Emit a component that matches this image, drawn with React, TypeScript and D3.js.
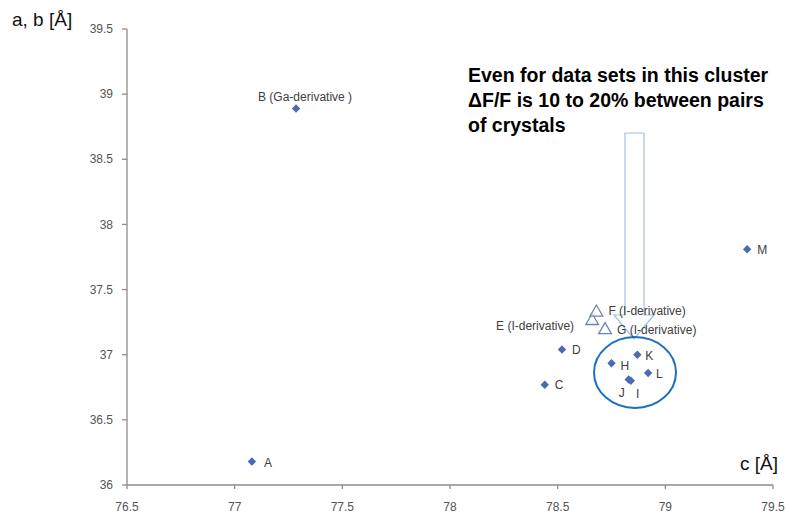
import React from "react";
import * as d3 from "d3";

// crystal data sets: c axis vs a,b axis (Å)
const names = ["A", "B", "C", "D", "E", "F", "G", "H", "J", "I", "K", "L", "M"];
const cValues = [77.08, 77.285, 78.44, 78.52, 78.66, 78.68, 78.72, 78.75, 78.83, 78.84, 78.87, 78.92, 79.38];
const abValues = [36.18, 38.89, 36.77, 37.04, 37.26, 37.325, 37.19, 36.935, 36.81, 36.8, 37.0, 36.86, 37.81];
const derivative = ["", "Ga", "", "", "I", "I", "I", "", "", "", "", "", ""];
const xTicks = [76.5, 77, 77.5, 78, 78.5, 79, 79.5];
const yTicks = [36, 36.5, 37, 37.5, 38, 38.5, 39, 39.5];
const noteLines = [
  "Even for data sets in this cluster",
  "\u0394F/F is 10 to 20% between pairs",
  "of crystals",
];

// label placement relative to each marker
const labelOffsets: Record<string, [number, number, string]> = {
  A: [12, 1, "start"],
  B: [-38, -12, "start"],
  C: [10, 0, "start"],
  D: [10, 0, "start"],
  E: [-18, 5, "end"],
  F: [12, -2, "start"],
  G: [12, 0, "start"],
  H: [9, 3, "start"],
  J: [-4, 13, "end"],
  I: [5, 13, "start"],
  K: [8, 1, "start"],
  L: [8, 1, "start"],
  M: [10, 1, "start"],
};

const W = 787;
const H = 517;

export default function App() {
  const x = d3.scaleLinear().domain([76.5, 79.5]).range([127, 773]);
  const y = d3.scaleLinear().domain([36, 39.5]).range([485, 29]);

  // square diamond, like Excel's marker
  const dp = d3.path();
  dp.moveTo(0, -4.2);
  dp.lineTo(4.2, 0);
  dp.lineTo(0, 4.2);
  dp.lineTo(-4.2, 0);
  dp.closePath();
  const diamond = dp.toString();
  const triangle = d3.symbol().type(d3.symbolTriangle).size(70)() as string;

  const labelFont = "'Liberation Sans', Arial, sans-serif";

  const pts = names.map((n, i) => ({
    name: n,
    c: cValues[i],
    ab: abValues[i],
    deriv: derivative[i],
  }));

  const label = (p: { name: string; deriv: string }) => {
    if (!p.deriv) return p.name;
    if (p.deriv === "Ga") return `${p.name} (Ga-derivative )`;
    return `${p.name} (I-derivative)`;
  };

  // block arrow outline
  const arrow = d3.path();
  arrow.moveTo(625, 133);
  arrow.lineTo(644, 133);
  arrow.lineTo(644, 315);
  arrow.lineTo(654, 315);
  arrow.lineTo(634, 339);
  arrow.lineTo(614, 315);
  arrow.lineTo(625, 315);
  arrow.closePath();

  return (
    <svg
      width={W}
      height={H}
      style={{ position: "absolute", left: 0, top: 0, background: "white" }}
    >
      <rect width={W} height={H} fill="white" />

      {/* axes */}
      <g stroke="#8c8c8c" strokeWidth={1.3} fill="none">
        <line x1={x(76.5)} x2={x(76.5)} y1={y(39.5)} y2={y(36)} />
        <line x1={x(76.5)} x2={x(79.5)} y1={y(36)} y2={y(36)} />
        {yTicks.map((t) => (
          <line key={t} x1={x(76.5) - 5} x2={x(76.5)} y1={y(t)} y2={y(t)} />
        ))}
        {xTicks.map((t) => (
          <line key={t} x1={x(t)} x2={x(t)} y1={y(36)} y2={y(36) + 4} />
        ))}
      </g>
      <g fontFamily={labelFont} fontSize={12} fill="#555">
        {yTicks.map((t) => (
          <text key={t} x={x(76.5) - 14} y={y(t)} dy="0.35em" textAnchor="end">
            {t}
          </text>
        ))}
        {xTicks.map((t) => (
          <text key={t} x={x(t)} y={y(36) + 22} dy="0.35em" textAnchor="middle">
            {t}
          </text>
        ))}
      </g>

      {/* axis titles */}
      <text x={12} y={26} fontFamily={labelFont} fontSize={19} fill="#111">
        a, b [Å]
      </text>
      <text x={740} y={470} fontFamily={labelFont} fontSize={19} fill="#111">
        c [Å]
      </text>

      {/* arrow to cluster */}
      <path d={arrow.toString()} fill="white" stroke="#9dc3e6" strokeWidth={1.2} />

      {/* cluster ellipse */}
      <ellipse cx={635} cy={372.5} rx={41} ry={35.5} fill="none" stroke="#1f6fbf" strokeWidth={2} />

      {/* markers */}
      {pts.map((p) => (
        <g key={p.name} transform={`translate(${x(p.c)},${y(p.ab)})`}>
          {p.deriv === "I" ? (
            <path d={triangle} fill="white" fillOpacity={0.6} stroke="#6f82bf" strokeWidth={1.3} />
          ) : (
            <path d={diamond} fill="#4a6bb0" />
          )}
        </g>
      ))}

      {/* point labels */}
      <g fontFamily={labelFont} fontSize={12} fill="#404040">
        {pts.map((p) => {
          const [dx, dy, anchor] = labelOffsets[p.name];
          return (
            <text
              key={p.name}
              x={x(p.c) + dx}
              y={y(p.ab) + dy}
              dy="0.35em"
              textAnchor={anchor}
            >
              {label(p)}
            </text>
          );
        })}
      </g>

      {/* annotation */}
      <g fontFamily={labelFont} fontSize={19.5} fontWeight="bold" fill="#000">
        {noteLines.map((l, i) => (
          <text key={i} x={468} y={82 + i * 25}>
            {l}
          </text>
        ))}
      </g>
    </svg>
  );
}
